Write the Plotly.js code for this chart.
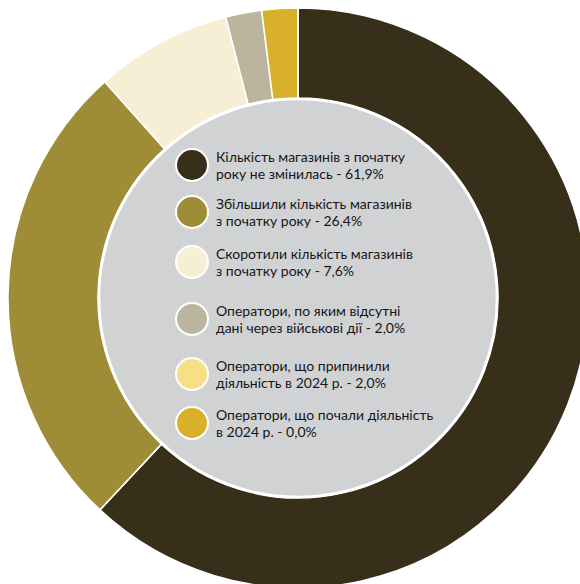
<!DOCTYPE html>
<html>
<head>
<meta charset="utf-8">
<script src="https://cdn.plot.ly/plotly-3.0.1.min.js"></script>
<style>
html,body{margin:0;padding:0;overflow:hidden;background:#fff;width:580px;height:584px;}
#chart{width:596px;height:596px;}
</style>
</head>
<body>
<div id="chart"></div>
<script>
// Data
const categories = [
  "Кількість магазинів з початку<br>року не змінилась - 61,9%",
  "Збільшили кількість магазинів<br>з початку року - 26,4%",
  "Скоротили кількість магазинів<br>з початку року - 7,6%",
  "Оператори, по яким відсутні<br>дані через військові дії - 2,0%",
  "Оператори, що припинили<br>діяльність в 2024 р. - 2,0%",
  "Оператори, що почали діяльність<br>в 2024 р. - 0,0%"
];
const values = [61.9, 26.4, 7.6, 2.0, 2.0, 0.0];
const sliceColors = ["#372F1A", "#9E8D36", "#F6EFD6", "#BCB59E", "#D9B02A", "#D9B02A"];
const legendColors = ["#372F1A", "#9E8D36", "#F6EFD6", "#BCB59E", "#F7DF85", "#D9B02A"];

// Layout constants (pixels within a 596x596 plot)
const W = 596, H = 596;
const cx = 298, cy = 298, R = 290;
const innerR = 199;
const legendY = [165, 212, 262, 319, 374, 423];
const markerX = 192, markerR = 16, textX = 215;
const lineOffsets = [-8.5, 8.5];

const px = v => v / W;
const py = v => 1 - v / H;

const shapes = [{
  type: "circle", xref: "paper", yref: "paper",
  x0: px(cx - innerR), x1: px(cx + innerR),
  y0: py(cy + innerR), y1: py(cy - innerR),
  fillcolor: "#D1D2D4", line: {color: "#ffffff", width: 2.5}
}];
const annotations = [];
categories.forEach((c, i) => {
  shapes.push({
    type: "circle", xref: "paper", yref: "paper",
    x0: px(markerX - markerR), x1: px(markerX + markerR),
    y0: py(legendY[i] + markerR), y1: py(legendY[i] - markerR),
    fillcolor: legendColors[i], line: {color: "#ffffff", width: 2}
  });
  c.split("<br>").forEach((line, j) => {
    annotations.push({
      xref: "paper", yref: "paper", x: px(textX), y: py(legendY[i] + lineOffsets[j]),
      xanchor: "left", yanchor: "middle", align: "left", showarrow: false,
      borderpad: 0,
      text: line, font: {family: "Lato, 'Open Sans', sans-serif", size: 14, color: "#161616"}
    });
  });
});

const trace = {
  type: "pie",
  values: values,
  labels: categories,
  marker: {colors: sliceColors, line: {color: "#ffffff", width: 1.5}},
  hole: 200 / R,
  sort: false,
  direction: "clockwise",
  rotation: 0,
  textinfo: "none",
  hoverinfo: "none",
  showlegend: false,
  domain: {x: [px(cx - R), px(cx + R)], y: [py(cy + R), py(cy - R)]}
};

Plotly.newPlot("chart", [trace], {
  width: W, height: H,
  margin: {l: 0, r: 0, t: 0, b: 0},
  paper_bgcolor: "#ffffff",
  showlegend: false,
  shapes: shapes,
  annotations: annotations
}, {staticPlot: true});
</script>
</body>
</html>
